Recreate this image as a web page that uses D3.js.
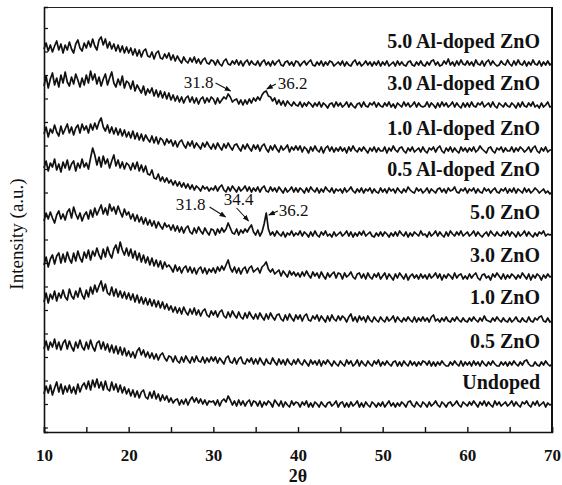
<!DOCTYPE html>
<html><head><meta charset="utf-8">
<script src="https://cdn.jsdelivr.net/npm/d3@7"></script>
<style>
html,body{margin:0;padding:0;background:#fff;}
svg{display:block;}
text{font-family:"Liberation Serif","Times New Roman",serif;fill:#111;}
</style></head>
<body>
<svg id="chart" width="562" height="485"></svg>
<script>
// ---- data (2θ from 10 to 70, step 0.25) ----
const angleStart = 10, angleStep = 0.25;
const xTicks = [10, 20, 30, 40, 50, 60, 70];
const xMinorTicks = [15, 25, 35, 45, 55, 65];
const seriesNames = ["5.0 Al-doped ZnO","3.0 Al-doped ZnO","1.0 Al-doped ZnO","0.5 Al-doped ZnO","5.0 ZnO","3.0 ZnO","1.0 ZnO","0.5 ZnO","Undoped"];
const seriesOffsets = [366, 324, 279, 238, 195, 152, 110, 66, 25];

const al5 = [
17,23,15,21,14,20,25,16,22,13,21,16,24,17,13,22,26,18,15,23,
18,25,19,27,20,16,26,29,21,27,18,24,17,22,15,21,14,20,13,19,
13,18,11,17,10,16,9,15,17,10,9,14,7,13,15,8,7,12,8,13,
6,11,5,10,6,3,9,5,3,8,4,9,3,7,2,6,8,3,2,6,
5,1,6,2,0,5,7,2,1,5,2,6,1,5,0,4,6,1,5,2,
1,5,0,4,6,1,4,0,5,1,4,6,1,0,4,5,1,4,0,5,
4,0,3,5,1,4,6,1,0,4,1,5,0,4,1,5,4,0,2,4,
1,5,0,4,1,0,4,6,1,4,0,2,5,1,4,0,4,1,5,0,
4,1,5,0,2,4,0,5,1,4,1,0,4,5,1,0,4,1,5,1,
0,4,1,5,6,1,4,0,1,5,2,7,1,4,0,5,1,6,2,1,
5,1,4,0,6,2,1,5,0,4,6,1,5,2,0,1,5,2,1,6,
2,0,5,1,6,2,1,5,0,4,1,6,2,1,5,0,4,1,5,1,
3];
const al3 = [
22,32,20,29,35,23,30,21,33,25,36,26,22,31,24,34,28,21,30,23,
33,25,37,28,34,24,31,22,29,34,23,30,36,25,21,29,23,32,20,27,
25,19,27,17,23,19,15,22,13,19,15,20,12,18,11,17,10,16,9,15,
8,13,7,12,6,11,5,10,12,6,11,5,10,4,9,11,5,10,6,11,
9,4,10,5,8,11,9,14,11,6,8,9,4,8,3,8,4,9,5,10,
7,11,8,13,16,17,12,11,7,10,4,8,3,7,2,7,4,2,6,3,
2,6,1,5,2,6,4,1,5,2,6,1,5,3,0,4,5,1,6,2,
5,1,3,6,1,5,2,0,4,5,1,6,2,1,5,3,6,1,5,2,
1,5,2,6,1,4,0,5,3,1,6,2,5,1,3,6,1,5,2,1,
2,6,1,5,3,0,5,1,6,2,5,1,3,6,1,5,2,0,5,1,
5,1,6,2,1,5,3,6,1,3,5,1,6,2,0,5,3,1,5,2,
1,5,3,0,5,1,6,2,1,5,2,6,1,3,0,5,1,3,6,1,
2];
const al1 = [
19,26,16,24,20,28,21,17,27,19,24,29,20,26,18,25,28,20,29,23,
27,20,29,23,30,24,31,35,26,22,28,20,26,19,25,18,24,17,23,16,
21,15,22,14,20,13,19,12,18,14,11,17,10,16,9,15,13,8,14,10,
13,7,12,6,11,13,8,5,11,7,12,5,10,7,4,10,6,11,7,4,
9,4,10,6,3,9,5,10,6,3,8,9,5,2,8,4,9,5,2,8,
4,8,2,7,9,4,1,7,3,8,4,1,7,3,5,8,1,6,3,7,
3,7,1,6,4,0,6,2,7,3,1,6,0,5,7,2,6,1,5,2,
6,2,5,0,6,2,7,3,1,5,2,6,3,0,5,2,6,1,5,2,
2,6,0,5,2,7,3,1,5,6,2,0,5,2,6,1,3,5,1,6,
2,0,5,3,6,1,5,7,2,0,5,2,6,1,5,2,0,6,2,5,
1,5,2,6,1,3,7,4,2,0,5,6,2,0,5,3,6,1,5,2,
2,6,1,5,2,6,4,1,3,6,1,5,7,2,0,5,2,6,1,3,
3];
const al05 = [
26,33,23,31,27,35,24,30,22,32,26,34,24,30,33,23,31,26,35,27,
31,25,36,46,39,29,37,27,38,30,35,26,33,39,28,34,26,32,25,31,
29,24,31,25,32,23,29,22,28,20,19,24,16,15,20,13,17,12,16,11,
14,9,13,8,12,7,11,6,10,5,9,4,8,6,3,8,5,7,3,6,
4,8,3,7,9,4,2,7,3,8,5,2,7,3,5,8,3,7,2,6,
3,7,2,6,8,3,2,7,3,6,2,7,4,1,6,2,4,7,2,6,
2,6,4,1,6,2,7,4,2,6,1,5,2,7,4,2,6,1,5,3,
5,1,6,2,4,7,3,1,5,2,6,1,5,3,6,1,5,2,1,6,
2,5,1,6,3,5,1,6,3,1,5,2,7,4,2,1,6,3,5,1,
3,6,1,5,3,1,5,6,2,5,1,6,3,4,7,2,1,5,3,6,
1,5,3,6,1,5,2,1,6,3,5,1,4,6,2,1,5,3,6,1,
5,2,6,1,5,3,1,6,2,5,1,3,6,4,1,3,5,1,3,0,
2];
const zno5 = [
16,24,18,25,19,14,22,26,18,23,17,25,28,19,30,23,18,24,16,22,
25,18,27,20,29,22,27,32,23,29,22,33,26,30,23,31,25,20,28,22,
25,18,23,16,22,15,20,13,19,12,17,11,16,9,15,11,8,14,10,12,
7,12,6,11,5,10,4,9,11,5,3,9,4,10,6,3,9,5,2,8,
7,2,8,4,9,5,8,14,9,4,3,8,2,7,4,8,5,9,12,5,
2,7,1,5,13,24,8,2,5,1,6,3,1,5,0,4,2,6,1,4,
2,6,1,5,3,0,5,1,6,2,0,5,2,6,1,3,0,5,1,3,
5,1,3,6,1,5,0,4,1,5,2,6,1,3,5,1,0,4,1,5,
1,5,3,0,4,1,5,1,6,3,1,5,0,4,1,5,3,1,6,2,
3,0,5,1,3,6,1,5,2,0,5,1,6,3,1,5,2,6,1,3,
5,1,3,6,1,5,2,0,3,5,1,6,3,1,5,2,1,5,2,6,
1,5,3,0,5,1,3,6,1,5,2,0,4,1,5,3,6,1,3,2,
3];
const zno3 = [
15,23,13,21,25,16,24,27,17,26,18,28,21,17,27,19,29,22,18,28,
22,30,20,29,24,32,25,21,31,23,33,26,22,31,35,27,38,30,25,32,
24,31,22,29,20,27,18,25,17,23,15,22,14,20,13,19,11,18,13,15,
12,8,15,9,13,7,12,14,8,13,7,12,6,11,13,7,12,6,11,8,
12,7,13,9,14,10,15,20,12,8,13,7,12,6,11,13,7,12,14,8,
10,12,7,13,15,18,11,8,11,6,8,10,4,9,6,3,9,5,8,4,
7,3,8,4,9,5,2,8,4,7,2,8,4,1,7,3,6,8,2,7,
6,1,7,3,5,8,3,1,6,7,2,6,1,7,3,1,6,3,7,1,
4,7,1,6,3,0,6,2,7,4,1,6,0,4,6,2,5,1,6,2,
5,1,6,2,4,7,2,6,0,5,2,6,4,1,7,2,5,6,1,4,
1,6,2,5,7,2,0,5,6,2,4,0,6,3,7,4,1,6,1,5,
2,6,4,1,5,2,7,4,1,6,0,5,2,6,4,0,5,2,6,3,
4];
const zno1 = [
20,29,19,28,23,31,21,29,24,32,25,22,33,26,23,31,25,34,27,23,
32,25,35,28,37,30,36,41,31,38,29,27,35,26,33,25,31,24,30,23,
29,22,28,20,27,19,25,18,24,17,23,16,22,15,21,14,20,13,18,12,
16,10,15,9,14,8,15,10,7,13,8,14,7,12,6,11,13,7,5,11,
7,11,5,10,12,6,4,10,5,11,7,4,10,5,3,9,4,10,6,3,
8,3,9,5,2,8,3,9,5,2,7,8,3,1,7,2,8,4,1,7,
3,7,1,6,8,2,1,6,3,7,1,6,3,0,6,1,7,3,1,6,
2,6,4,0,5,8,1,5,0,6,2,5,0,6,2,0,5,2,0,5,
2,0,5,1,3,6,0,5,2,0,4,1,5,2,0,5,0,4,1,5,
1,4,0,5,7,1,3,0,4,1,5,1,0,4,1,5,2,0,4,1,
0,4,1,5,2,0,4,1,6,2,1,0,4,1,5,2,0,4,1,0,
4,0,2,5,1,0,4,1,0,5,1,0,4,2,5,6,1,0,4,0,
1];
const zno05 = [
17,25,16,24,19,27,17,24,16,23,26,17,25,19,15,24,18,26,19,16,
24,17,26,19,15,23,25,17,24,16,22,14,21,13,20,12,19,11,18,10,
15,9,14,8,15,18,11,16,9,14,8,13,7,12,6,11,13,8,5,10,
9,4,10,5,3,9,4,10,6,3,9,4,10,5,4,9,3,8,4,9,
5,9,3,8,5,2,8,10,4,3,8,2,7,9,3,2,7,4,8,2,
7,2,8,4,1,7,3,2,8,4,1,7,2,6,1,7,3,1,6,2,
7,3,1,6,3,0,6,2,5,1,6,0,5,2,6,3,0,5,2,0,
5,2,0,6,2,5,0,2,6,0,5,2,0,5,2,0,5,2,6,0,
4,1,5,2,0,4,5,0,4,0,5,2,0,5,1,4,0,4,1,5,
4,1,5,0,4,0,4,1,5,2,0,0,4,1,5,2,0,5,0,4,
1,4,0,5,1,4,0,5,2,0,4,1,5,2,0,0,4,1,4,0,
4,1,5,2,0,4,1,5,6,2,0,0,4,1,0,4,1,5,2,0,
2];
const undoped = [
13,21,14,22,12,19,25,15,23,13,21,15,22,14,20,13,23,15,21,24,
18,26,17,27,20,28,19,25,17,26,18,16,25,17,23,15,22,14,20,13,
18,11,17,10,16,9,15,17,10,8,15,9,16,8,13,6,12,7,11,5,
9,4,7,8,2,7,3,8,2,7,10,5,9,4,8,3,7,2,6,5,
6,2,7,1,6,8,5,11,7,2,6,1,7,2,6,1,5,7,1,6,
5,1,6,0,5,2,6,4,0,7,4,1,6,0,5,2,0,6,2,5,
4,0,5,2,6,0,4,0,5,3,0,5,2,0,4,5,1,3,6,0,
4,5,0,4,0,5,1,3,6,0,4,0,5,2,0,5,3,0,4,1,
5,0,3,6,1,4,0,4,1,5,3,0,5,6,2,0,5,2,0,5,
3,0,5,1,3,6,2,0,5,3,0,4,5,1,3,6,2,0,5,3,
1,5,2,6,3,0,5,2,6,1,5,2,0,6,2,5,1,3,5,1,
3,6,1,5,2,0,5,3,6,2,0,5,2,6,1,3,5,0,4,2,
3];
const seriesValues = [al5, al3, al1, al05, zno5, zno3, zno1, zno05, undoped];

// peak annotations: series index, 2θ, label
const peakSeries = [1, 1, 4, 4, 4];
const peakAngles = [31.8, 36.2, 31.8, 34.4, 36.2];
const peakLabels = ["31.8", "36.2", "31.8", "34.4", "36.2"];

// ---- layout ----
const svg = d3.select("#chart");
const L = 44, R = 552, T = 7, B = 432;
const x = d3.scaleLinear().domain([10, 70]).range([L, R]);
const y = d3.scaleLinear().domain([0, 425]).range([B, T]);

// frame top & right
svg.append("line").attr("x1", L).attr("x2", R).attr("y1", T + 0.5).attr("y2", T + 0.5)
  .attr("stroke", "#222").attr("stroke-width", 1);
svg.append("line").attr("x1", R).attr("x2", R).attr("y1", T).attr("y2", B)
  .attr("stroke", "#111").attr("stroke-width", 2);

// series lines
const line = d3.line()
  .x((d, i) => x(angleStart + i * angleStep))
  .y(d => d);
seriesValues.forEach((vals, si) => {
  const pts = vals.map(v => y(seriesOffsets[si] + v));
  svg.append("path").datum(pts)
    .attr("d", line)
    .attr("fill", "none").attr("stroke", "#111")
    .attr("stroke-width", 1.7).attr("stroke-linejoin", "round");
});

// bottom axis
const gx = svg.append("g").attr("transform", `translate(0,${B})`);
gx.call(d3.axisBottom(x).tickValues(xTicks).tickSize(-5).tickPadding(0).tickFormat(d3.format("d")));
gx.select(".domain").attr("stroke", "#111").attr("stroke-width", 1.6);
gx.selectAll(".tick line").attr("stroke", "#111").attr("stroke-width", 1.4);
gx.selectAll(".tick text").attr("y", 29).attr("dy", null)
  .style("font-family", "'Liberation Serif',serif").style("font-weight", "bold")
  .style("font-size", "17px").attr("fill", "#111");
const gxm = svg.append("g").attr("transform", `translate(0,${B})`);
gxm.call(d3.axisBottom(x).tickValues(xMinorTicks).tickSize(-5).tickFormat(""));
gxm.select(".domain").remove();
gxm.selectAll(".tick line").attr("stroke", "#111").attr("stroke-width", 1.4);

// left axis (unlabelled inward ticks)
const yTickVals = d3.range(404, 0, -23.5);
const gy = svg.append("g").attr("transform", `translate(${L},0)`);
gy.call(d3.axisLeft(y).tickValues(yTickVals).tickSize(-4).tickFormat(""));
gy.select(".domain").attr("stroke", "#111").attr("stroke-width", 1.6);
gy.selectAll(".tick line").attr("stroke", "#111").attr("stroke-width", 1.2);

// axis titles
svg.append("text").attr("x", x(40)).attr("y", 482)
  .attr("text-anchor", "middle").style("font-weight", "bold").style("font-size", "18px")
  .text("2θ");
svg.append("text").attr("transform", `translate(23,${234}) rotate(-90)`)
  .attr("text-anchor", "middle").style("font-size", "19px")
  .text("Intensity (a.u.)");

// series labels
seriesNames.forEach((name, si) => {
  const endLevel = y(seriesOffsets[si] + 3);
  svg.append("text").attr("x", 540).attr("y", endLevel - 15)
    .attr("text-anchor", "end").style("font-weight", "bold").style("font-size", "20px")
    .text(name);
});

// arrows
svg.append("defs").append("marker").attr("id", "ah")
  .attr("viewBox", "0 0 10 10").attr("refX", 9).attr("refY", 5)
  .attr("markerWidth", 6).attr("markerHeight", 6).attr("orient", "auto")
  .append("path").attr("d", "M0,1 L10,5 L0,9 Z").attr("fill", "#111");

const arrowStyle = [
  {tdx: 2, tdy: -3, ax: -15, ay: -8, anchor: "end", lx: -2, ly: 5},
  {tdx: 1, tdy: -2, ax: 9, ay: -5, anchor: "start", lx: 2, ly: 5},
  {tdx: -3, tdy: -6, ax: -16, ay: -10, anchor: "end", lx: -4, ly: 3},
  {tdx: -2, tdy: -4, ax: -12, ay: -13, anchor: "middle", lx: 2, ly: -3},
  {tdx: 3, tdy: 2, ax: 9, ay: -4, anchor: "start", lx: 1, ly: 5}
];
peakAngles.forEach((a, k) => {
  const si = peakSeries[k];
  const idx = Math.round((a - angleStart) / angleStep);
  const vals = seriesValues[si];
  const pv = Math.max(vals[idx - 1], vals[idx], vals[idx + 1]);
  const st = arrowStyle[k];
  const tx = x(a) + st.tdx, ty = y(seriesOffsets[si] + pv) + st.tdy;
  const sx = tx + st.ax, sy = ty + st.ay;
  svg.append("line").attr("x1", sx).attr("y1", sy).attr("x2", tx).attr("y2", ty)
    .attr("stroke", "#111").attr("stroke-width", 1.1).attr("marker-end", "url(#ah)");
  svg.append("text").attr("x", sx + st.lx).attr("y", sy + st.ly)
    .attr("text-anchor", st.anchor).style("font-size", "17px")
    .text(peakLabels[k]);
});
</script>
</body></html>
